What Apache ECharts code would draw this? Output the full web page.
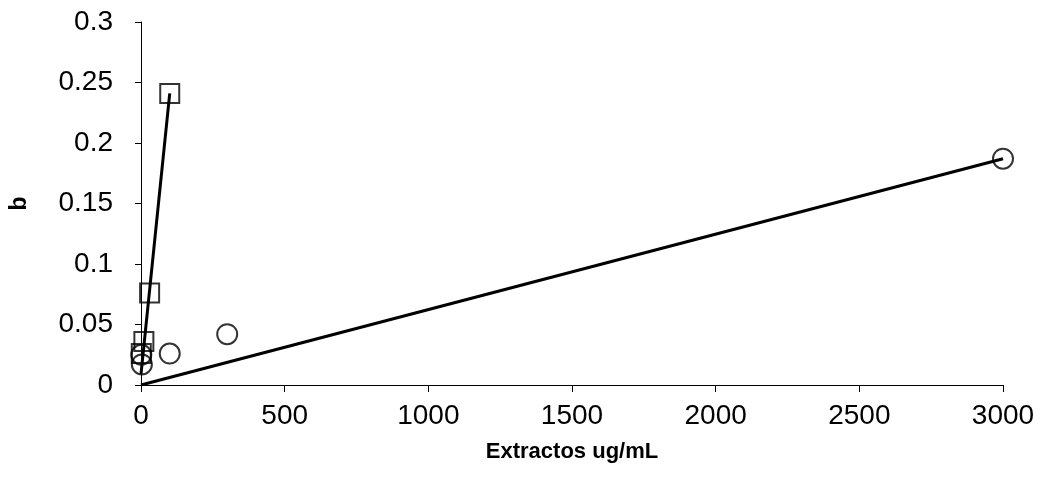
<!DOCTYPE html>
<html>
<head>
<meta charset="utf-8">
<script src="https://cdn.jsdelivr.net/npm/echarts@6/dist/echarts.min.js"></script>
<style>html,body{margin:0;padding:0;background:#fff;}#c{width:1056px;height:493px;}</style>
</head>
<body>
<div id="c"></div>
<script>
const xTicks = [0, 500, 1000, 1500, 2000, 2500, 3000];
const yTicks = [0, 0.05, 0.1, 0.15, 0.2, 0.25, 0.3];
const squareX = [1, 10, 30, 100];
const squareY = [0.026, 0.036, 0.076, 0.241];
const circleX = [1, 3, 100, 300, 3000];
const circleY = [0.025, 0.017, 0.026, 0.042, 0.187];
const squareFitX = [0, 100];
const squareFitY = [0.009, 0.241];
const circleFitX = [0, 3000];
const circleFitY = [0, 0.187];

const pairs = (xs, ys) => xs.map((x, i) => [x, ys[i]]);
const chart = echarts.init(document.getElementById('c'));
const font = 'Arial, "Liberation Sans", sans-serif';
chart.setOption({
  animation: false,
  backgroundColor: '#fff',
  grid: {left: 141, right: 53, top: 22, bottom: 108, containLabel: false, outerBoundsMode: 'none'},
  xAxis: {
    type: 'value', min: xTicks[0], max: xTicks[xTicks.length - 1], interval: 500,
    name: 'Extractos ug/mL', nameLocation: 'middle', nameGap: 56,
    nameTextStyle: {fontFamily: font, fontSize: 22, fontWeight: 'bold', color: '#000'},
    axisLine: {lineStyle: {color: '#000', width: 1}},
    axisTick: {inside: false, length: 7, lineStyle: {color: '#000'}},
    axisLabel: {fontFamily: font, fontSize: 28, color: '#000', margin: 17,
      formatter: v => String(v)},
    splitLine: {show: false}
  },
  yAxis: {
    type: 'value', min: yTicks[0], max: yTicks[yTicks.length - 1], interval: 0.05,
    name: 'b', nameLocation: 'middle', nameGap: 110, nameRotate: 90,
    nameTextStyle: {fontFamily: font, fontSize: 23, fontWeight: 'bold', color: '#000'},
    axisLine: {show: true, lineStyle: {color: '#000', width: 1}},
    axisTick: {show: true, inside: false, length: 6, lineStyle: {color: '#000'}},
    axisLabel: {fontFamily: font, fontSize: 28, color: '#000', margin: 28,
      formatter: v => String(+v.toFixed(2))},
    splitLine: {show: false}
  },
  series: [
    {type: 'line', data: pairs(circleFitX, circleFitY), symbol: 'none',
      lineStyle: {color: '#000', width: 3}, z: 2},
    {type: 'line', data: pairs(squareFitX, squareFitY), symbol: 'none',
      lineStyle: {color: '#000', width: 3}, z: 2},
    {type: 'scatter', data: pairs(circleX, circleY), symbol: 'circle', symbolSize: 20,
      itemStyle: {color: 'rgba(0,0,0,0)', borderColor: '#000', borderWidth: 2}, z: 3},
    {type: 'scatter', data: pairs(squareX, squareY), symbol: 'rect', symbolSize: 19,
      itemStyle: {color: 'rgba(0,0,0,0)', borderColor: '#000', borderWidth: 2}, z: 3}
  ]
});
</script>
</body>
</html>
